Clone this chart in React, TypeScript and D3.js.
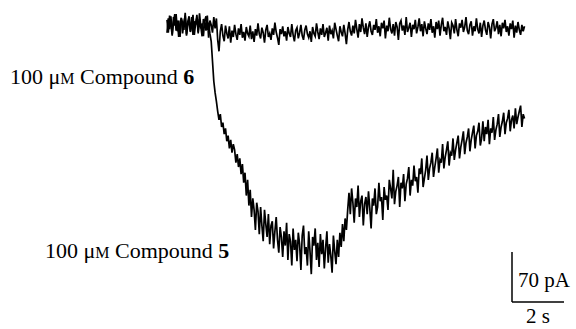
import React, { useRef, useEffect } from "react";
import * as d3 from "d3";

// sampling step of both traces (s)
const dt = 0.05;

// 100 uM compound 6 (pA, relative to holding current)
const compound6 = [
  10, -8, 16, 4, -12, 14, 2, 18, -6, 9,
  -14, 12, 6, -4, 20, -10, 8, 15, -7, 3,
  17, -11, 5, 13, -9, 19, 1, -13, 11, 7,
  -5, 16, -15, 9, 3, -8, 14, -2, 12, -18,
  -34, -6, 4, -12, -20, 2, -9, -16, 1, -22,
  -5, -14, 3, -10, -18, -2, -11, 4, -15, -7,
  -19, 0, -9, -13, 2, -17, -6, -21, -3, -12,
  5, -10, -16, -1, -8, -22, -4, 3, -14, -9,
  -18, -2, -11, 6, -7, -15, -25, -3, -10, 1,
  -13, -6, -19, 0, -9, -14, 4, -11, -20, -5,
  -1, -16, -8, 3, -12, -18, -4, 2, -10, -15,
  -6, -21, 0, -9, -13, 5, -7, -17, -2, -11,
  4, -14, -8, -1, -19, 2, -10, -5, -16, 6,
  -3, -12, -20, 1, -7, -13, 3, -9, -24, -4,
  7, -6, -12, 2, -9, 10, -3, -15, 4, -7,
  12, -1, -10, 5, -14, 0, 8, -6, -11, 3,
  -4, 11, -8, 1, -13, 6, -2, 9, -16, 2,
  -6, 13, -3, -9, 4, -12, 7, 0, -18, 5,
  9, -5, 2, -11, 14, -7, -1, 6, -14, 3,
  -3, 10, -9, 0, 12, -6, 4, -13, 8, -2,
  -10, 5, -4, 11, -8, 1, -15, 7, -3, 9,
  -12, 3, 13, -6, 0, -11, 8, -2, -17, 6,
  2, -9, 11, -4, -13, 5, -1, 10, -7, 0,
  14, -5, -10, 3, 8, -12, 1, -6, 12, -3,
  -9, 6, -14, 2, 9, -4, -11, 7, 0, -16,
  4, 11, -6, -1, 8, -10, 3, -13, 6, -2,
  10, -7, 1, -12, 5, -3, 9, -15, 2, -8,
  7, -4, -11, 3, -6, 1,
];

// 100 uM compound 5
const compound5 = [
  -8, 12, -3, 15, -10, 6, 18, -5, 9, -14,
  4, 13, -9, 7, 16, -12, 2, 10, -6, 14,
  -11, 8, 3, 17, -7, 11, -2, 5, -13, 9,
  15, -4, 6, -9, -20, -48, -76, -92, -104, -118,
  -130, -122, -140, -134, -150, -142, -160, -152, -170, -158,
  -176, -164, -172, -190, -178, -196, -184, -206, -192, -218,
  -204, -236, -214, -250, -228, -266, -240, -256, -284, -246,
  -258, -290, -252, -278, -300, -256, -276, -294, -262, -304,
  -278, -272, -310, -286, -266, -298, -316, -280, -294, -322,
  -286, -306, -274, -326, -290, -300, -334, -282, -312, -298,
  -328, -288, -304, -340, -292, -278, -318, -308, -334, -286,
  -314, -346, -294, -306, -282, -326, -302, -336, -290, -318,
  -298, -338, -310, -286, -330, -304, -320, -344, -292, -314,
  -332, -298, -322, -288, -308, -276, -300, -268, -284, -256,
  -232, -262, -226, -246, -274, -240, -252, -222, -266, -244,
  -236, -278, -248, -238, -262, -230, -254, -282, -240, -250,
  -226, -262, -252, -218, -244, -238, -270, -224, -242, -236,
  -256, -214, -226, -240, -200, -248, -230, -222, -210, -252,
  -218, -226, -206, -244, -220, -212, -196, -236, -214, -222,
  -194, -216, -210, -232, -198, -206, -184, -224, -212, -200,
  -180, -214, -198, -190, -176, -210, -196, -184, -170, -204,
  -186, -190, -164, -198, -182, -172, -160, -194, -176, -180,
  -156, -186, -172, -162, -152, -184, -168, -158, -146, -178,
  -162, -154, -142, -174, -158, -148, -138, -170, -152, -146,
  -134, -166, -156, -132, -160, -140, -150, -130, -164, -142,
  -148, -126, -158, -144, -136, -122, -154, -140, -132, -120,
  -150, -134, -128, -116, -146, -130, -124, -142, -114, -136,
  -126, -118, -110, -140, -122, -128,
];

const barCurrent = 70; // pA
const barTime = 2; // s

function App() {
  const svgRef = useRef<SVGSVGElement>(null);

  useEffect(() => {
    const svg = d3.select(svgRef.current);
    svg.selectAll("*").remove();

    const x = d3.scaleLinear().domain([0, 2]).range([167, 219]);
    const y = d3.scaleLinear().domain([0, -70]).range([27, 77]);

    const line = d3
      .line<number>()
      .x((d, i) => x(i * dt))
      .y((d) => y(d));

    svg
      .selectAll("path.trace")
      .data([compound6, compound5])
      .enter()
      .append("path")
      .attr("class", "trace")
      .attr("d", (d) => line(d))
      .attr("fill", "none")
      .attr("stroke", "#000")
      .attr("stroke-width", 1.7)
      .attr("stroke-linejoin", "miter");

    // scale bars
    const bx = 512;
    const by = 302;
    const vLen = y(-barCurrent) - y(0);
    const hLen = x(barTime) - x(0);
    svg.append("line")
      .attr("x1", bx).attr("x2", bx)
      .attr("y1", by - vLen).attr("y2", by)
      .attr("stroke", "#000").attr("stroke-width", 1.5);
    svg.append("line")
      .attr("x1", bx).attr("x2", bx + hLen)
      .attr("y1", by).attr("y2", by)
      .attr("stroke", "#000").attr("stroke-width", 1.5);

    const font = "Liberation Serif, Times New Roman, serif";
    svg.append("text")
      .attr("x", bx + 6).attr("y", 287)
      .style("font-family", font).style("font-size", "21px")
      .text(barCurrent + " pA");
    svg.append("text")
      .attr("x", bx + hLen / 2).attr("y", 323)
      .attr("text-anchor", "middle")
      .style("font-family", font).style("font-size", "21px")
      .text(barTime + " s");

    const labels = [
      { id: "6", lx: 10, ly: 84 },
      { id: "5", lx: 45, ly: 258 },
    ];
    labels.forEach((l) => {
      const t = svg.append("text")
        .attr("x", l.lx).attr("y", l.ly)
        .style("font-family", font).style("font-size", "22px");
      t.append("tspan").text("100 μ");
      t.append("tspan").style("font-size", "16px").text("M");
      t.append("tspan").text(" Compound ");
      t.append("tspan").style("font-weight", "bold").text(l.id);
    });
  }, []);

  return (
    <svg
      ref={svgRef}
      width={576}
      height={329}
      style={{ position: "absolute", left: 0, top: 0, display: "block" }}
    />
  );
}

export default App;
